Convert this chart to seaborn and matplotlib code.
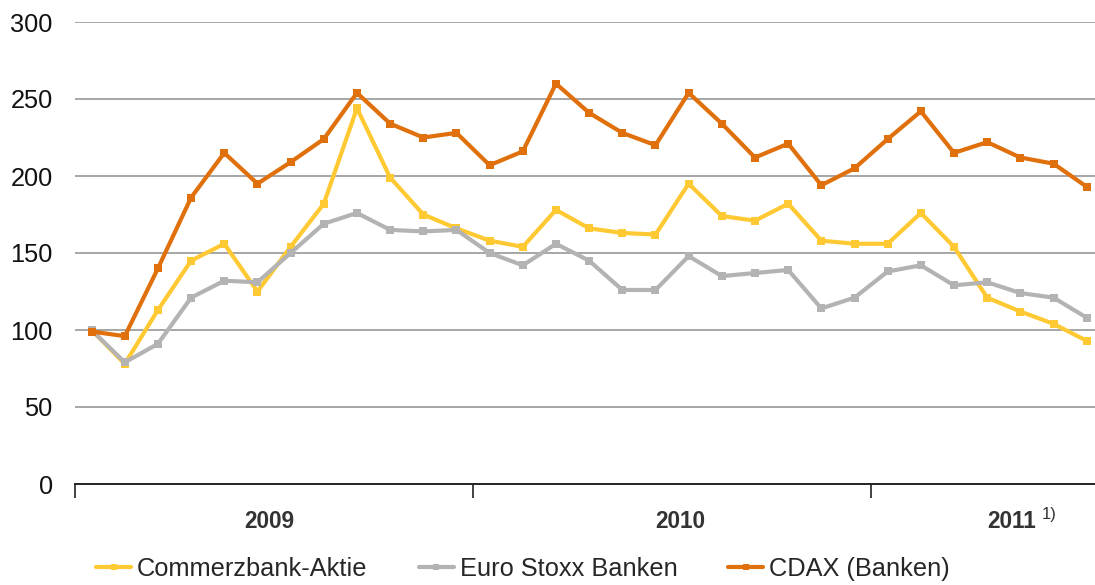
import matplotlib
matplotlib.use("Agg")
import matplotlib.pyplot as plt
import seaborn as sns
import pandas as pd
from matplotlib.lines import Line2D
from matplotlib.transforms import blended_transform_factory

# Monthly index values (start = 100), Jan 2009 - Jul 2011
months = pd.period_range("2009-01", "2011-07", freq="M").astype(str).tolist()

commerzbank = [100, 78, 113, 145, 156, 125, 154, 182, 244, 199, 175, 166,
               158, 154, 178, 166, 163, 162, 195, 174, 171, 182, 158, 156,
               156, 176, 154, 121, 112, 104, 93]
euro_stoxx = [100, 79, 91, 121, 132, 131, 150, 169, 176, 165, 164, 165,
              150, 142, 156, 145, 126, 126, 148, 135, 137, 139, 114, 121,
              138, 142, 129, 131, 124, 121, 108]
cdax = [99, 96, 140, 186, 215, 195, 209, 224, 254, 234, 225, 228,
        207, 216, 260, 241, 228, 220, 254, 234, 212, 221, 194, 205,
        224, 242, 215, 222, 212, 208, 193]

series_names = ["Commerzbank-Aktie", "Euro Stoxx Banken", "CDAX (Banken)"]
year_labels = ["2009", "2010", "2011"]
y_ticks = [0, 50, 100, 150, 200, 250, 300]

colors = {"Commerzbank-Aktie": "#FFC933",
          "Euro Stoxx Banken": "#B3B3B3",
          "CDAX (Banken)": "#E0700B"}

x = list(range(len(months)))
df = pd.concat([
    pd.DataFrame({"x": x, "Wert": vals, "Serie": name})
    for name, vals in zip(series_names, [commerzbank, euro_stoxx, cdax])
])

sns.set_style("white")
plt.rcParams["font.family"] = ["Liberation Sans", "DejaVu Sans"]

fig = plt.figure(figsize=(10.95, 5.85), dpi=100)
ax = fig.add_axes([75 / 1095, 1 - 484 / 585, 1 - 75 / 1095, (484 - 22) / 585])

sns.lineplot(data=df, x="x", y="Wert", hue="Serie", hue_order=series_names,
             palette=colors, marker="s", markersize=5.5, markeredgewidth=0,
             linewidth=3, dashes=False, legend=False, ax=ax, zorder=3)

ax.set_xlim(-0.5, 30.25)
ax.set_ylim(0, 300)
ax.set_yticks(y_ticks)
ax.set_yticklabels([str(v) for v in y_ticks], fontsize=18.3, color="#111111")
ax.tick_params(axis="y", left=False, length=0, pad=16)

# horizontal gridlines (none at zero, the axis line sits there)
for v in y_ticks[1:]:
    ax.axhline(v, color="#A6A6A6", linewidth=1.4, zorder=1)

for side in ["top", "right", "left"]:
    ax.spines[side].set_visible(False)
ax.spines["bottom"].set_color("#222222")
ax.spines["bottom"].set_linewidth(1.4)

# year separators as ticks
ax.set_xticks([-0.5, 11.5, 23.5])
ax.set_xticklabels([])
ax.tick_params(axis="x", bottom=True, direction="out", length=10, width=1.2,
               color="#222222")

ax.set_xlabel("")
ax.set_ylabel("")

trans = blended_transform_factory(ax.transData, fig.transFigure)
year_pos = [5.35, 17.75, 27.75]
for pos, lab in zip(year_pos, year_labels):
    ax.text(pos, 1 - 522 / 585, lab, transform=trans, ha="center", va="center",
            fontsize=16.3, fontweight="bold", color="#333333")
ax.text(28.65, 1 - 514 / 585, "1)", transform=trans, ha="left", va="center",
        fontsize=12, color="#333333")

handles = [Line2D([0], [0], color=colors[n], linewidth=3, marker="s",
                  markersize=5, markeredgewidth=0) for n in series_names]
fig.legend(handles, series_names, loc="center left",
           bbox_to_anchor=(96 / 1095, 1 - 569 / 585), ncol=3, frameon=False,
           fontsize=18.3, handlelength=1.38, handletextpad=0.24,
           columnspacing=2.0, borderaxespad=0, borderpad=0)

fig.savefig("out.png", dpi=100)
